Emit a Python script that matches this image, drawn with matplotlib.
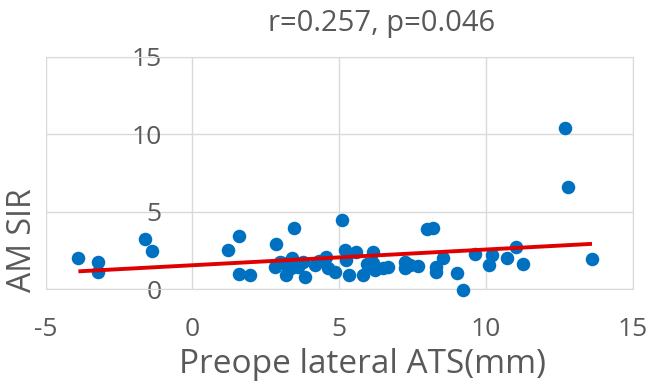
import numpy as np
import matplotlib.pyplot as plt

# ── data ──────────────────────────────────────────────────────────────────────
ats_mm = [-3.88, -3.20, -3.20, -1.62, -1.39, 1.22, 1.58, 1.58, 1.98, 2.84,
          3.46, 5.11, 2.81, 3.09, 3.20, 3.41, 3.37, 3.77, 3.83, 4.17,
          4.54, 4.62, 4.85, 5.19, 5.24, 5.33, 5.59, 5.81, 6.15, 6.15,
          6.21, 6.49, 6.66, 7.23, 7.23, 7.68, 8.00, 8.20, 8.31, 8.31,
          8.53, 9.01, 9.21, 9.61, 10.10, 10.21, 10.71, 11.03, 11.25, 12.70,
          12.78, 13.61, 3.00, 3.60, 4.30, 5.95, 7.40]
am_sir = [2.02, 1.73, 1.08, 3.23, 2.46, 2.52, 3.43, 0.95, 0.90, 2.89,
          3.94, 4.46, 1.44, 1.66, 0.90, 1.98, 1.34, 1.76, 0.80, 1.55,
          2.09, 1.34, 1.12, 2.52, 1.87, 0.90, 2.41, 0.90, 2.41, 1.66,
          1.23, 1.34, 1.44, 1.76, 1.34, 1.51, 3.85, 3.95, 1.44, 1.12,
          1.98, 1.05, -0.05, 2.24, 1.55, 2.20, 1.98, 2.73, 1.60, 10.41,
          6.61, 1.92, 1.75, 1.40, 1.80, 1.60, 1.55]

x_ticks = [-5, 0, 5, 10, 15]
y_ticks = [0, 5, 10, 15]
title_txt = 'r=0.257, p=0.046'

x = np.array(ats_mm)
y = np.array(am_sir)
slope, intercept = np.polyfit(x, y, 1)   # linear trendline
x_fit = np.array([x.min(), x.max()])
y_fit = slope * x_fit + intercept

# ── plot ──────────────────────────────────────────────────────────────────────
plt.rcParams['font.family'] = ['Open Sans', 'DejaVu Sans']
plt.rcParams['axes.unicode_minus'] = False
grey = '#595959'
grid = '#d9d9d9'

fig = plt.figure(figsize=(6.54, 3.87), dpi=100)
ax = fig.add_axes([0.0696, 0.253, 0.898, 0.6])

ax.scatter(x, y, s=95, color='#0070C0', zorder=3, clip_on=False, linewidths=0)
ax.plot(x_fit, y_fit, color='#E00000', lw=2.8, zorder=4, solid_capstyle='butt')

ax.set_xlim(-5, 15)
ax.set_ylim(0, 15)
ax.set_xticks(x_ticks)
ax.set_yticks(y_ticks)
ax.grid(True, color=grid, lw=1)
ax.set_axisbelow(True)

for s in ax.spines.values():
    s.set_color(grid)
ax.spines['left'].set_position(('data', 0))
ax.spines['left'].set_visible(False)

ax.tick_params(length=0, labelsize=19, labelcolor=grey)
ax.tick_params(axis='y', pad=22)
ax.tick_params(axis='x', pad=20)

fig.text(0.583, 0.94, title_txt, ha='center', va='center', fontsize=21, color=grey)
fig.text(0.555, 0.058, 'Preope lateral ATS(mm)', ha='center', va='center',
         fontsize=24, color=grey)
fig.text(0.035, 0.38, 'AM SIR', ha='center', va='center', rotation=90,
         fontsize=23, color=grey)

plt.savefig('out.png', dpi=100)
